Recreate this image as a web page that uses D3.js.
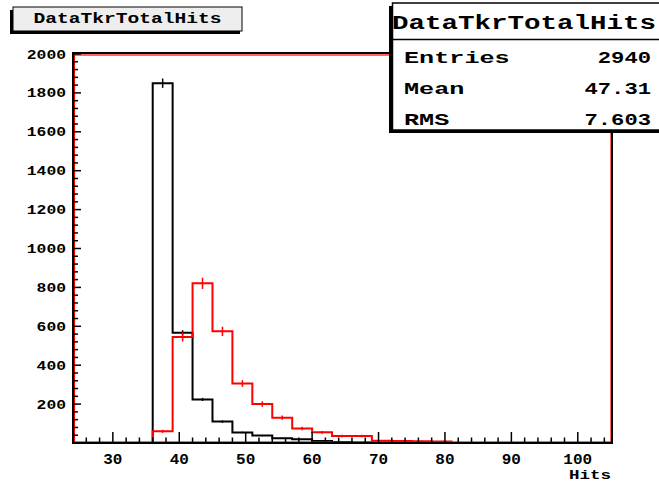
<!DOCTYPE html>
<html><head><meta charset="utf-8">
<script src="https://cdn.jsdelivr.net/npm/d3@7"></script>
<style>
html,body{margin:0;padding:0;background:#fff;}
svg{display:block;}
text{font-family:"Liberation Mono","DejaVu Sans Mono",monospace;font-weight:bold;fill:#000;}
</style></head><body>
<svg id="c" width="659" height="484"></svg>
<script>
// ---- data ----
const binLow = [24,27,30,33,36,39,42,45,48,51,54,57,60,63,66,69,72,75,78,81,84,87,90,93,96,99,102];
const binWidth = 3;
const blackCounts = [0,0,0,0,1850,567,224,110,54,38,24,19,10,5,3,1,0,0,0,0,0,0,0,0,0,0,0];
const blackErrors = [0,0,0,0,24,13,8,6,4,3,3,2,2,1,1,1,0,0,0,0,0,0,0,0,0,0,0];
const redCounts   = [0,0,0,0,60,545,821,574,306,200,130,75,55,36,36,12,10,9,8,0,0,0,0,0,0,0,0];
const redErrors   = [0,0,0,0,8,23,29,24,17,14,11,9,7,6,6,3,3,3,3,0,0,0,0,0,0,0,0];
const xTickLabels = [30,40,50,60,70,80,90,100];
const yTickLabels = [200,400,600,800,1000,1200,1400,1600,1800,2000];
const titleText = "DataTkrTotalHits";
const statNames = ["Entries","Mean","RMS"];
const statValues = ["2940","47.31","7.603"];
const xAxisTitle = "Hits";

// ---- layout ----
const svg = d3.select("#c");
const L = 73, R = 611, T = 54, B = 443;
const x = d3.scaleLinear().domain([24,105]).range([L,R]);
const y = d3.scaleLinear().domain([0,2000]).range([B,T]);

function stext(sel, str, px, charW, anchor){
  const n = String(str).length;
  sel.text(str).attr("font-size", px)
     .attr("textLength", n*charW).attr("lengthAdjust","spacingAndGlyphs")
     .attr("text-anchor", anchor||"start");
  return sel;
}

// ---- histograms ----
function histPath(counts){
  const p = d3.path();
  p.moveTo(x(binLow[0]), y(0));
  counts.forEach((c,i)=>{
    p.lineTo(x(binLow[i]), y(c));
    p.lineTo(x(binLow[i]+binWidth), y(c));
  });
  p.lineTo(x(binLow[binLow.length-1]+binWidth), y(0));
  return p.toString();
}
function drawHist(counts, errs, color){
  svg.append("path").attr("d", histPath(counts)).attr("fill","none")
     .attr("stroke", color).attr("stroke-width",2);
  svg.append("g").selectAll("line").data(counts.map((c,i)=>({c,e:errs[i],i})).filter(d=>d.c>0))
     .join("line")
     .attr("x1", d=>x(binLow[d.i]+binWidth/2)).attr("x2", d=>x(binLow[d.i]+binWidth/2))
     .attr("y1", d=>y(d.c+d.e)).attr("y2", d=>y(Math.max(0,d.c-d.e)))
     .attr("stroke", color).attr("stroke-width",1.5);
}
drawHist(blackCounts, blackErrors, "#000");
drawHist(redCounts, redErrors, "#ff0000");

// ---- frame ----
svg.append("rect").attr("x",L+1.5).attr("y",T+1).attr("width",R-L-1.5).attr("height",B-T-2)
   .attr("fill","none").attr("stroke","#ff0000").attr("stroke-width",1.2);
svg.append("rect").attr("x",L).attr("y",T-1).attr("width",R-L+1).attr("height",B-T+1)
   .attr("fill","none").attr("stroke","#000").attr("stroke-width",2);

// ---- axes ticks ----
const xMinor = d3.range(24,106,2);
svg.append("g").selectAll("line").data(xMinor).join("line")
  .attr("x1",d=>x(d)).attr("x2",d=>x(d))
  .attr("y1",B).attr("y2",d=> d%10===0 ? B-11 : B-5.5)
  .attr("stroke","#000").attr("stroke-width",1.5);
const yMinor = d3.range(0,2001,40);
svg.append("g").selectAll("line").data(yMinor).join("line")
  .attr("x1",L).attr("x2",d=> d%200===0 ? L+8 : L+5)
  .attr("y1",d=>y(d)).attr("y2",d=>y(d))
  .attr("stroke","#000").attr("stroke-width",1.5);

// tick labels
svg.append("g").selectAll("text").data(xTickLabels).join("text")
  .each(function(d){ stext(d3.select(this), d, 14, 9.6, "middle"); })
  .attr("x",d=>x(d)).attr("y",B+21);
svg.append("g").selectAll("text").data(yTickLabels).join("text")
  .each(function(d){ stext(d3.select(this), d, 13.5, 9.8, "end"); })
  .attr("x",L-7).attr("y",d=>y(d)+4.5);
stext(svg.append("text"), xAxisTitle, 13.5, 10.5, "end").attr("x",R).attr("y",479);

// ---- title box ----
svg.append("rect").attr("x",10).attr("y",10).attr("width",230).attr("height",24).attr("fill","#000");
svg.append("rect").attr("x",13).attr("y",7).attr("width",229).attr("height",24)
   .attr("fill","#eeeeee").attr("stroke","#000").attr("stroke-width",1);
stext(svg.append("text"), titleText, 14, 11.75, "start").attr("x",33.5).attr("y",23);

// ---- stats box ----
svg.append("rect").attr("x",389).attr("y",6).attr("width",280).attr("height",127).attr("fill","#000");
svg.append("rect").attr("x",392.5).attr("y",3).attr("width",280).attr("height",127)
   .attr("fill","#fff").attr("stroke","#000").attr("stroke-width",1.5);
svg.append("line").attr("x1",392).attr("x2",659).attr("y1",39.5).attr("y2",39.5)
   .attr("stroke","#000").attr("stroke-width",1.5);
stext(svg.append("text"), titleText, 20, 16.5, "start").attr("x",392).attr("y",29);
statNames.forEach((n,i)=>{
  const yy = 63 + i*31;
  stext(svg.append("text"), n, 17, 15.1, "start").attr("x",404).attr("y",yy);
  stext(svg.append("text"), statValues[i], 17, 13.3, "end").attr("x",651).attr("y",yy);
});
</script></body></html>
